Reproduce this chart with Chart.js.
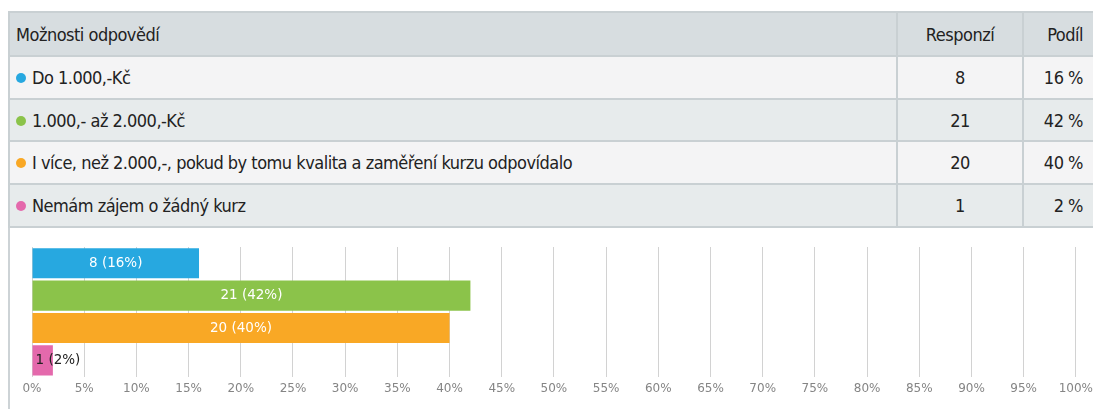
<!DOCTYPE html>
<html lang="cs">
<head>
  <meta charset="UTF-8" />
  <title>Možnosti odpovědí</title>
  <script src="https://cdn.jsdelivr.net/npm/chart.js"></script>
  <style>
    html, body {
      margin: 0;
      padding: 0;
      width: 1093px;
      height: 409px;
      overflow: hidden;
      background: #fff;
    }
    table {
      position: absolute;
      left: 8px;
      top: 11px;
      width: 1090px;
      border-collapse: collapse;
      font-family: "Liberation Sans Narrow", "DejaVu Sans Condensed", sans-serif;
      font-size: 18px;
      letter-spacing: -0.5px;
      color: #222;
    }
    td {
      border: 2px solid #c9d0d3;
      height: 40.7px;
      padding: 0 0 0 6px;
      white-space: nowrap;
    }
    tr.head td { background: #d7dde0; height: 42px; }
    tr.odd td { background: #f4f4f5; }
    tr.even td { background: #e7ebec; }
    td.n { text-align: center; width: 124px; padding: 0; }
    td.p { text-align: right; width: 59px; padding: 0 13px 0 0; }
    .dot {
      display: inline-block;
      width: 10px;
      height: 10px;
      border-radius: 50%;
      margin-right: 6px;
      vertical-align: 1px;
    }
    #wrap {
      position: absolute;
      left: 0;
      top: 0;
      width: 1098px;
      height: 409px;
    }
    #side {
      position: absolute;
      left: 8px;
      top: 226px;
      width: 2px;
      height: 183px;
      background: #cdd3d6;
    }
  </style>
</head>
<body>
  <div id="side"></div>
  <table id="tbl"></table>
  <div id="wrap"><canvas id="bars" width="1098" height="409"></canvas></div>

  <script>
    const answers = [
      'Do 1.000,-Kč',
      '1.000,- až 2.000,-Kč',
      'I více, než 2.000,-, pokud by tomu kvalita a zaměření kurzu odpovídalo',
      'Nemám zájem o žádný kurz'
    ];
    const counts = [8, 21, 20, 1];
    const shares = [16, 42, 40, 2];
    const colors = ['#27a8e0', '#8bc34a', '#f9a825', '#e469ac'];

    // table above the chart
    const tbl = document.getElementById('tbl');
    let html = '<tr class="head"><td>Možnosti odpovědí</td><td class="n">Responzí</td><td class="p">Podíl</td></tr>';
    answers.forEach((a, i) => {
      html += '<tr class="' + (i % 2 ? 'even' : 'odd') + '">' +
        '<td><span class="dot" style="background:' + colors[i] + '"></span>' + a + '</td>' +
        '<td class="n">' + counts[i] + '</td>' +
        '<td class="p">' + shares[i] + ' %</td></tr>';
    });
    tbl.innerHTML = html;

    // labels inside the bars
    const barLabels = {
      id: 'barLabels',
      afterDatasetsDraw(chart) {
        const c = chart.ctx;
        const meta = chart.getDatasetMeta(0);
        c.save();
        c.font = '13.5px "DejaVu Sans"';
        c.textBaseline = 'middle';
        meta.data.forEach((bar, i) => {
          const txt = counts[i] + ' (' + shares[i] + '%)';
          const w = c.measureText(txt).width;
          const len = bar.x - bar.base;
          if (len > w + 8) {
            c.fillStyle = '#fff';
            c.textAlign = 'center';
            c.fillText(txt, bar.base + len / 2, bar.y);
          } else {
            c.fillStyle = '#222';
            c.textAlign = 'left';
            c.fillText(txt, bar.base + 3, bar.y);
          }
        });
        c.restore();
      }
    };

    new Chart(document.getElementById('bars'), {
      type: 'bar',
      data: {
        labels: answers,
        datasets: [{
          data: shares,
          backgroundColor: colors,
          barPercentage: 0.93,
          categoryPercentage: 1
        }]
      },
      options: {
        indexAxis: 'y',
        responsive: false,
        animation: false,
        layout: { padding: { left: 32, right: 0, top: 247, bottom: 8 } },
        plugins: { legend: { display: false }, tooltip: { enabled: false } },
        scales: {
          x: {
            min: 0,
            max: 100,
            border: { display: false },
            grid: { color: '#d2d2d2', tickLength: 0 },
            ticks: {
              stepSize: 5,
              padding: 5,
              color: '#858585',
              font: { family: 'DejaVu Sans', size: 12 },
              callback: v => v + '%'
            }
          },
          y: { display: false }
        }
      },
      plugins: [barLabels]
    });
  </script>
</body>
</html>
